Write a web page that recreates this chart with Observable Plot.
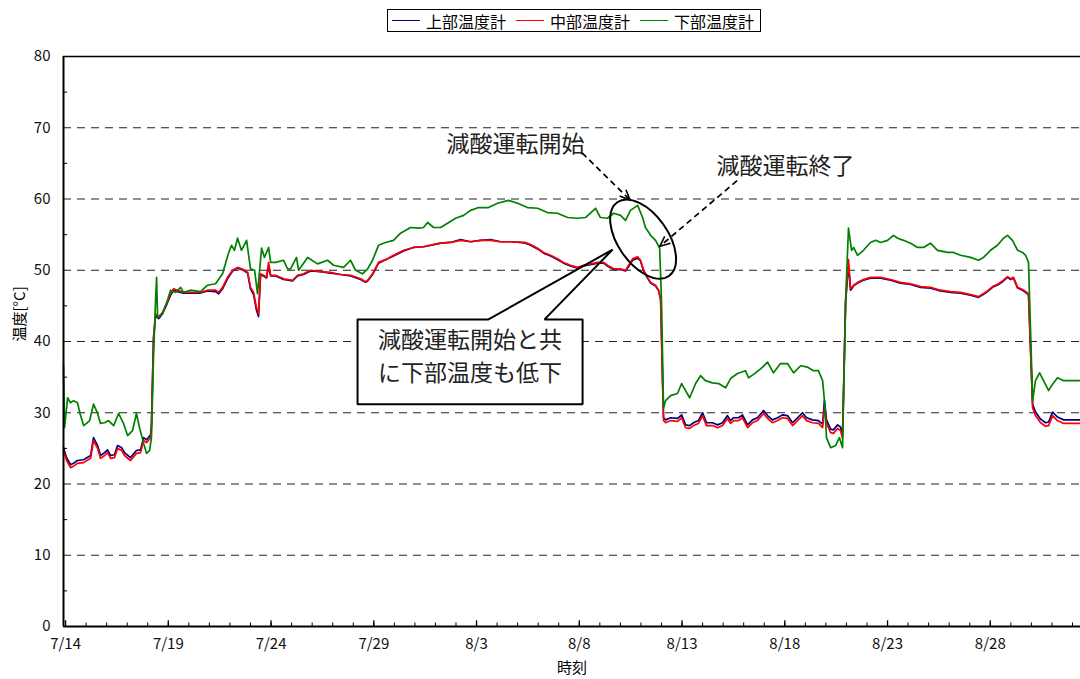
<!DOCTYPE html>
<html><head><meta charset="utf-8">
<script src="https://cdn.jsdelivr.net/npm/d3@7"></script>
<script src="https://cdn.jsdelivr.net/npm/@observablehq/plot@0.6"></script>
<style>
html,body{margin:0;padding:0;background:#fff;}
body{width:1080px;height:679px;overflow:hidden;font-family:"Noto Sans CJK JP",sans-serif;}
#legend{height:40px;position:relative;}
#legend .box{position:absolute;left:387px;top:9px;height:23px;border:1px solid #000;display:flex;align-items:center;padding:0 6px 0 4px;box-sizing:border-box;font-size:16px;color:#000;white-space:nowrap;}
#legend .item{display:flex;align-items:center;margin-right:10px;}
#legend .item:last-child{margin-right:0;}
#legend .sw{width:28px;height:0;border-top:1.6px solid;margin-right:6px;}
</style></head>
<body><div id="legend"><div class="box"></div></div><div id="chart"></div>
<script>
// ---- series ----
const seriesNames = ["上部温度計", "中部温度計", "下部温度計"];
const seriesColors = ["#000080", "#ff0000", "#008000"];

// x: days since 7/14 00:00
const greenDays = [-0.10,-0.05,0.10,0.24,0.39,0.58,0.73,0.88,1.02,1.17,
1.36,1.56,1.70,1.90,2.09,2.34,2.58,2.82,3.02,3.26,
3.45,3.60,3.80,3.94,4.09,4.18,4.28,4.38,4.43,4.48,
4.72,4.96,5.11,5.35,5.60,5.74,6.08,6.57,6.91,7.30,
7.64,7.93,8.08,8.22,8.37,8.56,8.81,9.00,9.20,9.34,
9.54,9.68,9.88,9.98,10.22,10.61,10.80,10.95,11.24,11.34,
11.78,12.26,12.75,13.04,13.53,13.87,14.11,14.45,14.70,14.94,
15.23,15.57,15.96,16.30,16.79,17.18,17.42,17.62,17.91,18.25,
18.59,18.98,19.37,19.71,20.10,20.58,21.02,21.56,22.00,22.48,
22.97,23.45,23.94,24.43,24.91,25.30,25.79,26.03,26.37,26.67,
27.01,27.25,27.49,27.84,28.08,28.22,28.47,28.71,28.91,29.00,
29.10,29.20,29.44,29.78,29.98,30.17,30.37,30.66,30.90,31.14,
31.48,31.78,32.12,32.36,32.70,33.09,33.24,33.58,33.92,34.16,
34.45,34.79,35.13,35.43,35.77,36.11,36.40,36.64,36.84,36.93,
37.03,37.23,37.47,37.66,37.81,37.96,38.10,38.25,38.35,38.54,
38.83,39.17,39.42,39.66,40.00,40.29,40.49,40.78,41.12,41.46,
41.75,42.09,42.43,42.92,43.21,43.55,44.04,44.43,44.67,45.01,
45.35,45.64,45.84,46.08,46.33,46.57,46.72,46.86,46.96,47.06,
47.20,47.40,47.59,47.84,47.98,48.27,48.57,48.91,49.39];

const lowerTemps = [36.6,27.9,32.1,31.4,31.7,31.4,29.6,28.2,28.5,28.9,
31.2,29.9,28.5,28.6,28.9,28.2,29.9,28.5,26.8,27.5,
29.9,27.9,25.7,24.3,24.7,26.5,37.8,45.8,49.0,43.4,
43.9,45.8,47.2,46.9,47.6,46.9,47.2,47.0,47.9,48.1,
49.5,52.4,53.5,52.8,54.5,52.8,54.2,50.2,50.0,46.7,
53.1,51.8,53.2,51.1,51.1,51.4,50.2,50.2,51.8,50.0,
51.8,50.9,51.4,50.7,50.4,51.4,50.0,49.5,50.2,51.4,
53.5,53.9,54.2,55.2,56.0,55.9,56.0,56.7,56.0,56.0,
56.6,57.3,57.7,58.4,58.8,58.8,59.4,59.8,59.4,58.8,
58.7,58.1,58.0,57.4,57.3,57.4,58.7,57.4,57.3,58.0,
57.7,57.0,58.4,59.1,57.4,56.0,54.9,54.2,53.1,45.8,
30.7,31.7,32.4,32.7,34.1,33.1,32.1,34.1,35.2,34.5,
34.2,34.1,33.5,34.8,35.5,35.9,34.9,35.6,36.4,37.1,
35.6,36.9,36.9,35.6,36.6,36.4,35.9,35.9,34.5,31.7,
26.5,25.1,25.4,26.5,25.1,45.8,55.9,52.8,53.2,52.1,
52.8,53.9,54.2,53.9,54.2,54.9,54.5,54.2,53.8,53.2,
53.2,53.8,52.8,52.5,52.5,52.1,51.8,51.4,51.8,52.8,
53.5,54.5,54.9,54.2,52.8,52.5,52.1,51.1,41.5,31.7,
34.5,35.6,34.5,33.1,33.8,34.9,34.5,34.5,34.5];

const midDays = [-0.10,0.05,0.24,0.39,0.58,0.88,1.22,1.36,1.56,1.70,
1.90,2.04,2.19,2.38,2.53,2.73,2.87,3.16,3.45,3.65,
3.80,3.94,4.14,4.18,4.28,4.38,4.53,4.72,4.91,5.11,
5.26,5.45,5.74,6.08,6.57,6.91,7.30,7.45,7.64,7.88,
8.13,8.37,8.66,8.86,9.00,9.15,9.29,9.39,9.49,9.64,
9.78,9.88,9.98,10.22,10.61,11.05,11.29,11.58,11.92,12.41,
12.90,13.38,13.87,14.36,14.60,14.70,14.94,15.23,15.67,15.96,
16.45,16.93,17.42,17.91,18.25,18.73,19.22,19.71,20.19,20.68,
21.17,21.65,22.14,22.38,22.63,22.97,23.26,23.60,23.94,24.23,
24.57,24.91,25.21,25.55,25.89,26.18,26.37,26.67,27.01,27.25,
27.40,27.59,27.84,27.98,28.13,28.32,28.47,28.71,28.86,28.96,
29.05,29.10,29.20,29.44,29.78,29.98,30.17,30.37,30.56,30.80,
31.00,31.19,31.48,31.73,31.97,32.21,32.36,32.51,32.75,32.94,
33.19,33.43,33.67,33.97,34.16,34.40,34.65,34.89,35.13,35.38,
35.62,35.86,36.06,36.35,36.64,36.84,36.93,37.03,37.23,37.37,
37.57,37.71,37.81,37.96,38.10,38.20,38.35,38.54,38.83,39.17,
39.66,40.15,40.63,41.12,41.61,42.09,42.58,43.07,43.55,44.04,
44.43,44.77,45.11,45.40,45.64,45.84,45.99,46.13,46.33,46.57,
46.86,46.96,47.06,47.20,47.45,47.69,47.84,48.03,48.27,48.57,
48.91,49.39];

const midTemps = [24.7,23.3,22.3,22.5,22.9,23.0,23.6,26.1,25.0,23.6,
24.0,24.4,23.6,23.7,25.0,24.7,24.0,23.3,24.3,24.4,
26.1,25.8,26.5,27.9,40.1,43.9,43.4,44.1,45.3,46.7,
47.4,47.2,46.9,46.9,46.9,47.2,47.2,46.9,47.6,49.0,
50.0,50.4,50.1,49.7,47.6,46.9,44.8,43.9,49.5,49.3,
49.0,51.1,49.3,49.3,48.8,48.6,49.3,49.5,50.0,49.8,
49.7,49.4,49.3,48.8,48.4,48.6,49.5,51.1,51.6,52.1,
52.8,53.2,53.3,53.6,53.8,53.9,54.2,54.0,54.2,54.2,
54.0,54.0,53.9,53.9,53.6,53.1,52.5,52.1,51.6,51.1,
50.7,50.4,50.7,50.9,51.1,51.1,50.7,50.2,50.2,50.0,
50.7,51.6,51.9,51.4,50.0,49.0,48.3,47.9,47.2,45.8,
34.5,28.9,28.6,28.9,28.8,29.3,27.9,27.8,28.2,28.5,
29.6,28.2,28.2,27.9,28.2,29.2,28.5,28.9,28.9,29.3,
27.9,28.6,28.9,29.9,29.2,28.6,28.9,29.3,29.2,28.2,
28.9,29.6,28.9,28.6,28.5,27.9,30.7,28.5,27.2,27.1,
27.8,27.5,26.4,45.8,51.5,47.4,47.9,48.3,48.7,49.0,
49.0,48.7,48.3,48.1,47.7,47.6,47.2,47.0,46.9,46.6,
46.3,46.9,47.7,48.1,48.6,49.1,48.8,49.0,47.6,47.3,
46.7,38.7,30.7,29.6,28.6,28.1,28.2,29.6,28.9,28.5,
28.5,28.5];

const upperTemps = [25.1,23.7,22.7,22.9,23.3,23.4,24.0,26.5,25.4,24.0,
24.4,24.8,24.0,24.1,25.4,25.1,24.4,23.7,24.7,24.8,
26.5,26.2,26.9,28.4,40.6,43.6,43.2,43.9,45.1,46.5,
47.2,47.0,46.8,46.8,46.8,47.1,47.0,46.7,47.4,48.8,
49.9,50.3,50.0,49.6,47.4,46.6,44.4,43.5,49.3,49.2,
48.9,50.6,49.2,49.2,48.7,48.5,49.2,49.4,49.9,49.8,
49.6,49.4,49.2,48.7,48.3,48.5,49.4,51.0,51.6,52.0,
52.7,53.2,53.3,53.6,53.8,53.9,54.3,54.0,54.2,54.3,
54.0,54.0,53.9,53.8,53.5,53.0,52.4,52.0,51.5,51.0,
50.6,50.3,50.6,50.8,51.0,51.0,50.6,50.1,50.1,49.9,
50.5,51.4,51.7,51.3,49.9,48.9,48.2,47.8,47.1,45.9,
34.8,29.3,29.0,29.3,29.2,29.7,28.3,28.2,28.6,28.9,
30.0,28.6,28.6,28.3,28.6,29.6,28.9,29.3,29.3,29.7,
28.3,29.0,29.3,30.3,29.6,29.0,29.3,29.7,29.6,28.6,
29.3,30.0,29.3,29.0,28.9,28.4,31.7,29.0,27.7,27.6,
28.3,28.0,26.9,45.5,50.8,47.2,47.8,48.2,48.6,48.9,
48.9,48.6,48.2,48.0,47.6,47.5,47.1,46.9,46.8,46.5,
46.2,46.8,47.6,48.0,48.5,49.0,48.7,48.9,47.5,47.2,
46.6,39.0,31.2,30.1,29.1,28.6,28.7,30.1,29.4,29.0,
29.0,29.0];

// ---- axes ----
const xTickLabels = ["7/14","7/19","7/24","7/29","8/3","8/8","8/13","8/18","8/23","8/28"];
const yTicks = [0,10,20,30,40,50,60,70,80];
const yMinorTicks = [5,15,25,35,45,55,65,75];
const gridValues = [10,20,30,40,50,60,70];
const xLabel = "時刻";
const yLabel = "温度[°C]";
const dayRange = [-0.10, 49.39];

// ---- annotations (data coordinates: day, °C) ----
const noteTexts = [
  {label: "減酸運転開始", d: 21.90, v: 67.6},
  {label: "減酸運転終了", d: 35.04, v: 64.6}
];
const noteArrows = [
  {d1: 25.16, v1: 66.4, d2: 27.49, v2: 59.8},
  {d1: 32.70, v1: 62.5, d2: 28.95, v2: 53.3}
];
const noteEllipse = {d: 28.13, v: 54.3};
const calloutBox = {d1: 14.21, d2: 25.16, v1: 31.2, v2: 43.1};
const calloutTip = {d: 26.62, v: 52.9};
const calloutBase = [20.58, 23.31];
const calloutLines = [
  {label: "減酸運転開始と共", d: 19.68, v: 40.1},
  {label: "に下部温度も低下", d: 19.68, v: 35.5}
];

// ---- build ----
const base = Date.UTC(2011, 6, 14);
const dayToDate = d => new Date(base + d * 864e5);
const parseMD = s => { const [m, d] = s.split("/").map(Number); return new Date(Date.UTC(2011, m - 1, d)); };
const tickDates = xTickLabels.map(parseMD);
const xTicks = xTickLabels.map((s, i) => ({date: tickDates[i], label: s}));
const xStart = dayToDate(dayRange[0]);
const xEnd = dayToDate(dayRange[1]);
const minorDates = d3.utcDay.range(dayToDate(0), xEnd);

const upper = midDays.map((d, i) => ({date: dayToDate(d), value: upperTemps[i]}));
const mid = midDays.map((d, i) => ({date: dayToDate(d), value: midTemps[i]}));
const lower = greenDays.map((d, i) => ({date: dayToDate(d), value: lowerTemps[i]}));

const calloutPts = [
  [calloutBox.d1, calloutBox.v2], [calloutBase[0], calloutBox.v2], [calloutTip.d, calloutTip.v],
  [calloutBase[1], calloutBox.v2], [calloutBox.d2, calloutBox.v2], [calloutBox.d2, calloutBox.v1],
  [calloutBox.d1, calloutBox.v1], [calloutBox.d1, calloutBox.v2]
];

function annotationLayer(index, scales) {
  const X = d => scales.x(dayToDate(d)), Y = v => scales.y(v);
  const g = d3.create("svg:g");
  for (const a of noteArrows) {
    const x1 = X(a.d1), y1 = Y(a.v1), x2 = X(a.d2), y2 = Y(a.v2);
    g.append("line").attr("x1", x1).attr("y1", y1).attr("x2", x2).attr("y2", y2)
      .attr("stroke", "#000").attr("stroke-width", 1.7).attr("stroke-dasharray", "6,4");
    const ang = Math.atan2(y2 - y1, x2 - x1), L = 11, w = 0.42;
    const p1 = [x2 - L * Math.cos(ang - w), y2 - L * Math.sin(ang - w)];
    const p2 = [x2 - L * Math.cos(ang + w), y2 - L * Math.sin(ang + w)];
    g.append("path").attr("d", `M${p1[0]},${p1[1]}L${x2},${y2}L${p2[0]},${p2[1]}`)
      .attr("fill", "none").attr("stroke", "#000").attr("stroke-width", 1.6);
  }
  const cx = X(noteEllipse.d), cy = Y(noteEllipse.v);
  g.append("ellipse").attr("cx", cx).attr("cy", cy).attr("rx", 45).attr("ry", 25)
    .attr("transform", `rotate(55 ${cx} ${cy})`)
    .attr("fill", "none").attr("stroke", "#000").attr("stroke-width", 2);
  return g.node();
}

// legend
const box = document.querySelector("#legend .box");
seriesNames.forEach((n, i) => {
  const it = document.createElement("div"); it.className = "item";
  const sw = document.createElement("span"); sw.className = "sw"; sw.style.borderTopColor = seriesColors[i];
  const tx = document.createElement("span"); tx.textContent = n;
  it.appendChild(sw); it.appendChild(tx); box.appendChild(it);
});

const chart = Plot.plot({
  width: 1080, height: 639,
  marginTop: 16, marginBottom: 53, marginLeft: 63, marginRight: 0,
  style: {fontFamily: "'Noto Sans CJK JP', sans-serif", fontSize: "15px", color: "#000", background: "white", overflow: "visible"},
  x: {type: "utc", domain: [xStart, xEnd], axis: null},
  y: {domain: [0, 80], axis: null},
  marks: [
    Plot.ruleY(gridValues, {stroke: "#222", strokeWidth: 1.1, strokeDasharray: "8,6"}),
    Plot.rect([calloutBox], {x1: b => dayToDate(b.d1), x2: b => dayToDate(b.d2), y1: "v1", y2: "v2", fill: "white"}),
    Plot.ruleY([80], {stroke: "#000", strokeWidth: 1.5}),
    Plot.line(upper, {x: "date", y: "value", stroke: seriesColors[0], strokeWidth: 1.7}),
    Plot.line(mid, {x: "date", y: "value", stroke: seriesColors[1], strokeWidth: 1.7}),
    Plot.line(lower, {x: "date", y: "value", stroke: seriesColors[2], strokeWidth: 1.7}),
    Plot.line(calloutPts, {x: p => dayToDate(p[0]), y: p => p[1], stroke: "#000", strokeWidth: 2, strokeLinejoin: "miter"}),
    Plot.text(calloutLines, {x: a => dayToDate(a.d), y: "v", text: "label", fontSize: 23, fill: "#222"}),
    Plot.text(noteTexts, {x: a => dayToDate(a.d), y: "v", text: "label", fontSize: 23, fill: "#222"}),
    annotationLayer,
    Plot.ruleX(minorDates, {y1: 0, y2: 0.5, stroke: "#000", strokeWidth: 1}),
    Plot.ruleX(tickDates, {y1: 0, y2: 0.8, stroke: "#000", strokeWidth: 1.3}),
    Plot.ruleY(yMinorTicks, {x1: xStart, x2: dayToDate(dayRange[0] + 0.2), stroke: "#000", strokeWidth: 1}),
    Plot.ruleX([xStart], {stroke: "#000", strokeWidth: 2}),
    Plot.ruleY([0], {stroke: "#000", strokeWidth: 2}),
    Plot.text(xTicks, {x: "date", text: "label", frameAnchor: "bottom", dy: 22, fontSize: 15, fill: "#111"}),
    Plot.text(yTicks, {y: d => d, text: d => String(d), frameAnchor: "left", dx: -13, textAnchor: "end", fontSize: 15, fill: "#111"}),
    Plot.text([xLabel], {frameAnchor: "bottom", dy: 46, fontSize: 15}),
    Plot.text([yLabel], {frameAnchor: "left", dx: -43, rotate: -90, fontSize: 15})
  ]
});
document.getElementById("chart").appendChild(chart);
</script></body></html>
